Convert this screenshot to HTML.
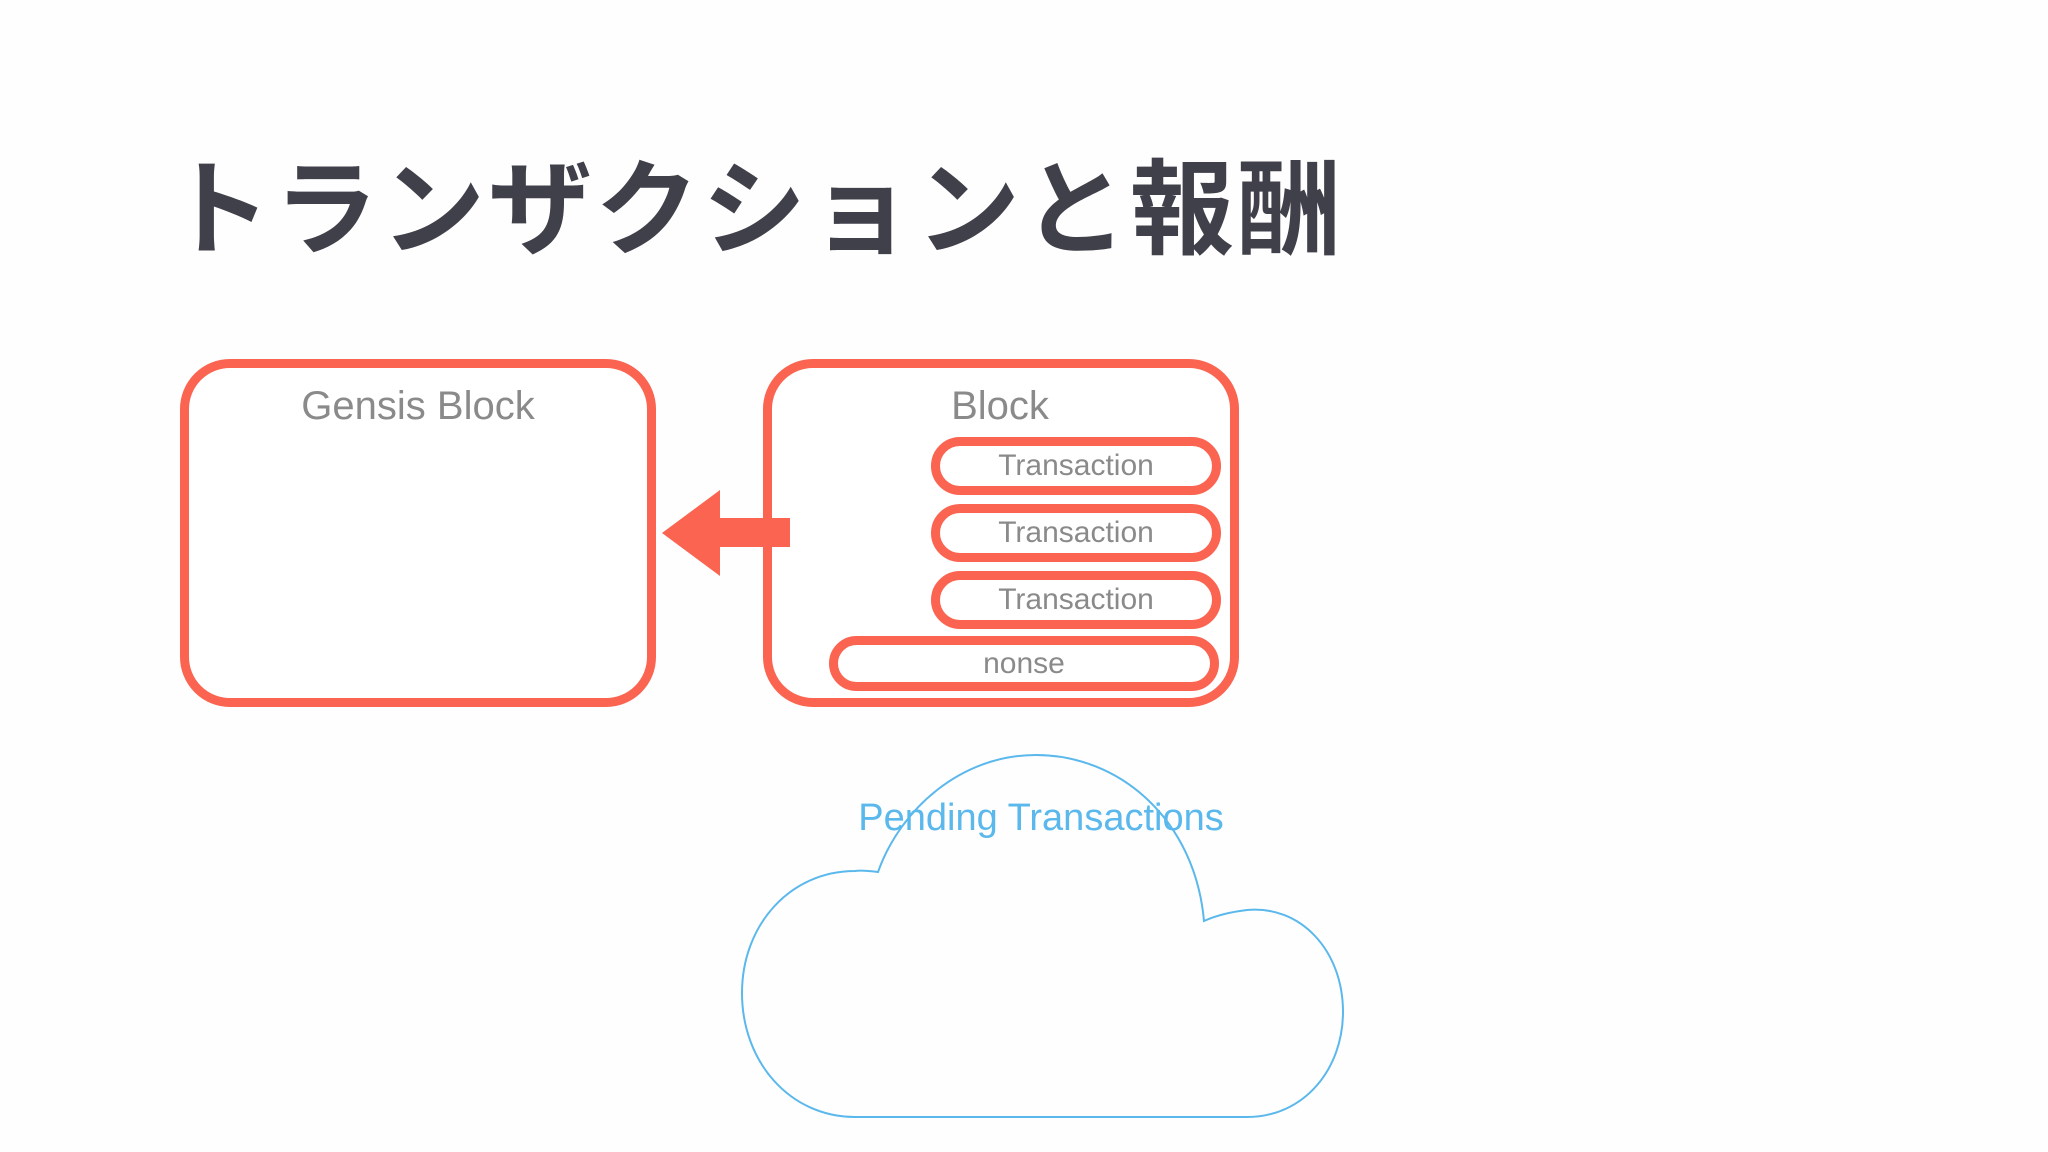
<!DOCTYPE html>
<html><head><meta charset="utf-8"><style>
body{margin:0;width:2048px;height:1152px;background:#fefefe;overflow:hidden;position:relative;font-family:"Liberation Sans","Noto Sans CJK JP",sans-serif}
.t{position:absolute;left:167px;top:125px;font-size:104px;font-weight:bold;color:#40404a;letter-spacing:3px;white-space:nowrap;font-family:"Noto Sans CJK JP",sans-serif}
.box{position:absolute;border:9px solid #fa6450;border-radius:50px;box-sizing:border-box;background:#fff}
.pill{position:absolute;border:9px solid #fa6450;border-radius:30px;box-sizing:border-box;background:#fff;color:#8a8a8a;font-size:30px;display:flex;align-items:center;justify-content:center}
.lbl{position:absolute;color:#8a8a8a;font-size:40px;transform:translateX(-50%);white-space:nowrap}
</style></head><body>
<div class="t">トランザクションと報酬</div>
<div class="box" style="left:180px;top:359px;width:476px;height:348px"></div>
<div class="lbl" style="left:418px;top:384px">Gensis Block</div>
<div class="box" style="left:763px;top:359px;width:476px;height:348px"></div>
<div class="lbl" style="left:1000px;top:384px">Block</div>
<div class="pill" style="left:931px;top:437px;width:290px;height:58px">Transaction</div>
<div class="pill" style="left:931px;top:504px;width:290px;height:58px">Transaction</div>
<div class="pill" style="left:931px;top:571px;width:290px;height:58px">Transaction</div>
<div class="pill" style="left:829px;top:636px;width:390px;height:55px">nonse</div>
<svg width="2048" height="1152" style="position:absolute;left:0;top:0">
<polygon points="662,533 720,490 720,518 790,518 790,547 720,547 720,576" fill="#fa6450"/>
<path d="M855,1117 L1247,1117 C1305,1117 1343,1068 1343,1012 C1343,950 1300,905 1247,910 C1230,912 1215,916 1204,921 C1195,820 1120,755 1036,755 C960,755 900,810 878,872 C870,871 862,870 855,871 C790,871 742,925 742,993 C742,1062 790,1117 855,1117 Z" fill="none" stroke="#5bb8ec" stroke-width="2"/>
<text x="1041" y="830" text-anchor="middle" font-family="Liberation Sans" font-size="38" fill="#5bb8ec">Pending Transactions</text>
</svg>
</body></html>
